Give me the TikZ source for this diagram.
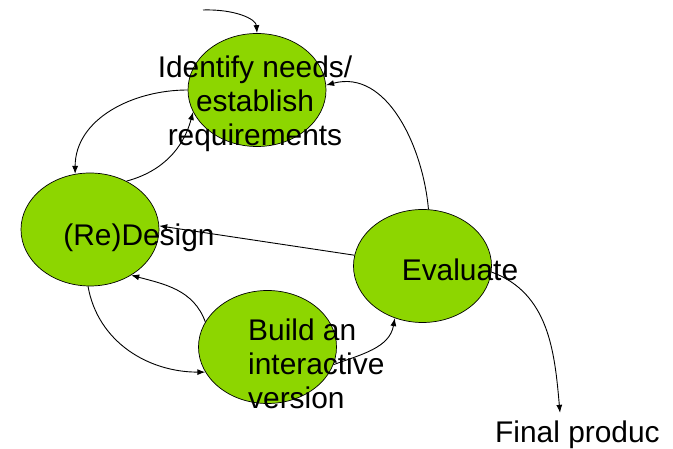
\documentclass[tikz,border=0pt]{standalone}
\usepackage{fontspec}
\setmainfont{Liberation Sans}
\usetikzlibrary{shapes.geometric,arrows.meta}
\definecolor{stagegreen}{RGB}{141,214,0}

\begin{document}
\begin{tikzpicture}[x=1bp, y=1bp,
    stage/.style={ellipse, draw, fill=stagegreen, line width=0.7bp,
                  minimum width=138bp, minimum height=113bp, inner sep=0pt},
    stagetext/.style={inner sep=0pt, font=\fontsize{30}{34}\selectfont},
    flow/.style={-{Latex[length=8bp,width=6bp]}, line width=0.9bp}]
  \useasboundingbox (0,0) rectangle (673,449);
  \node[stage] (ident) at (257,359) {};
  \node[stage] (design) at (90,219.5) {};
  \node[stage] (build) at (267.5,102) {};
  \node[stage] (eval) at (422.5,183) {};
  \coordinate (entry) at (203,439);

  \draw[flow] (entry) .. controls (235,440) and (256,430) .. (ident.north);
  \draw[flow] (ident.180) to[out=180, in=90] (design.105);
  \draw[flow] (design.53) to[out=15, in=255] (ident.199);
  \draw[flow] (eval.84) to[out=95, in=15] (ident.4);
  \draw[flow] (eval.171) -- (design.3);
  \draw[flow] (build.158) to[out=110, in=-15] (design.-48);
  \draw[flow] (design.268) to[out=-80, in=180] (build.202);
  \draw[flow] (build.345) to[out=20, in=260] (eval.242);

  \node[stagetext, align=center] (identtext) at (255,345)
    {Identify needs/\\establish\\requirements};
  \node[stagetext] (designtext) at (139,211) {(Re)Design};
  \node[stagetext, align=left, anchor=west] (buildtext) at (248,85)
    {Build an\\interactive\\version};
  \node[stagetext] (evaltext) at (460,179) {Evaluate};
  \node[stagetext, anchor=west] (final) at (495,14) {Final produc};

  \draw[flow] (eval.355) to[out=-20, in=95] ([xshift=65bp, yshift=8bp]final.north west);
\end{tikzpicture}
\end{document}
